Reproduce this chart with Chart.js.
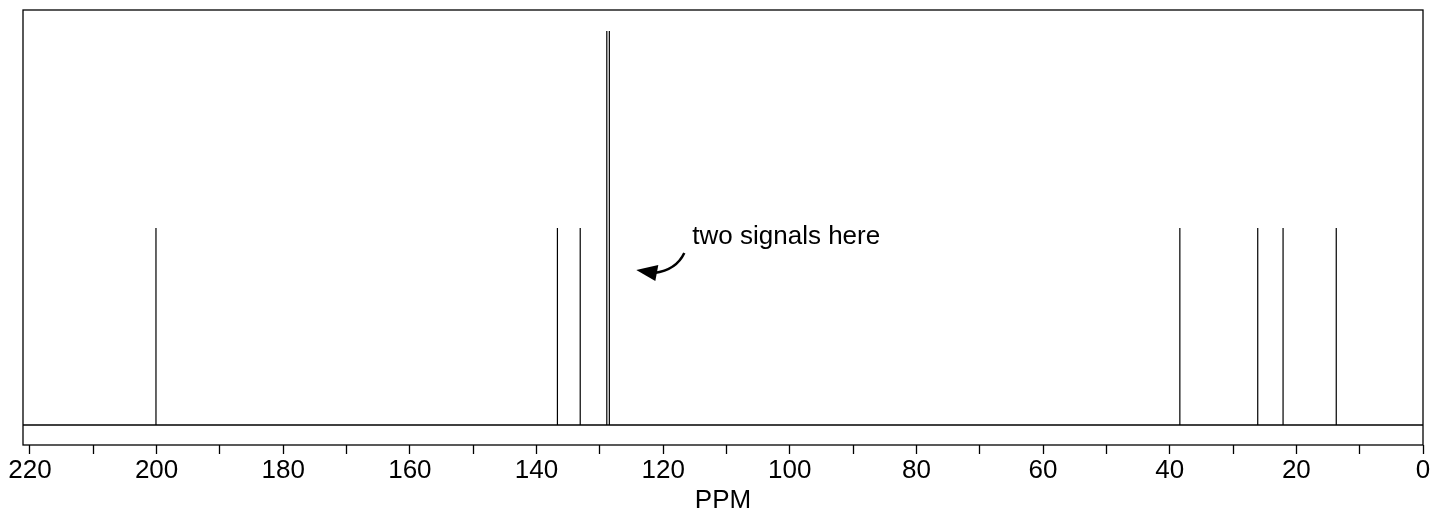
<!DOCTYPE html>
<html>
<head>
<meta charset="utf-8">
<script src="https://cdn.jsdelivr.net/npm/chart.js@4.4.1/dist/chart.umd.min.js"></script>
<style>
  html, body { margin: 0; padding: 0; background: #fff; }
  #wrap { width: 1434px; height: 514px; }
</style>
</head>
<body>
<div id="wrap"><canvas id="nmr"></canvas></div>
<script>
// 13C peaks (ppm) and their relative heights
const shifts = [200.1, 136.7, 133.1, 128.9, 128.5, 38.4, 26.1, 22.1, 13.7];
const heights = [0.5, 0.5, 0.5, 1, 1, 0.5, 0.5, 0.5, 0.5];

// axis ticks: every 10 ppm, labels every 20
const tickValues = [0, 10, 20, 30, 40, 50, 60, 70, 80, 90, 100, 110, 120, 130, 140, 150, 160, 170, 180, 190, 200, 210, 220];
const tickLabels = [0, 20, 40, 60, 80, 100, 120, 140, 160, 180, 200, 220];

const noteText = 'two signals here';
const FONT = '"Liberation Sans", Arial, sans-serif';

// one stick per peak, broken with null so they don't join up
const sticks = [];
shifts.forEach((p, i) => {
  sticks.push({ x: p, y: 0 }, { x: p, y: heights[i] }, { x: p, y: null });
});

const framePlugin = {
  id: 'frame',
  afterDatasetsDraw(chart) {
    const { ctx, chartArea: a, scales: { x, y } } = chart;
    ctx.save();
    ctx.strokeStyle = '#000';
    ctx.lineWidth = 1.3;
    ctx.strokeRect(a.left, a.top, a.right - a.left, a.bottom - a.top);

    // baseline
    const y0 = y.getPixelForValue(0);
    ctx.beginPath();
    ctx.moveTo(a.left, y0);
    ctx.lineTo(a.right, y0);
    ctx.stroke();

    // note + arrow
    const tx = x.getPixelForValue(115.4);
    const ty = y.getPixelForValue(0.477);
    ctx.fillStyle = '#000';
    ctx.font = '26px ' + FONT;
    ctx.textBaseline = 'middle';
    ctx.textAlign = 'left';
    ctx.fillText(noteText, tx, ty);

    ctx.lineWidth = 2.5;
    ctx.beginPath();
    ctx.moveTo(tx - 8, ty + 16);
    ctx.quadraticCurveTo(tx - 16, ty + 33, tx - 38, ty + 36);
    ctx.stroke();
    ctx.beginPath();
    ctx.moveTo(tx - 56, ty + 33);
    ctx.lineTo(tx - 34, ty + 28);
    ctx.lineTo(tx - 37, ty + 44);
    ctx.closePath();
    ctx.fill();
    ctx.restore();
  }
};

new Chart(document.getElementById('nmr'), {
  type: 'scatter',
  data: {
    datasets: [{
      data: sticks,
      showLine: true,
      spanGaps: false,
      borderColor: '#000',
      borderWidth: 1.2,
      pointRadius: 0
    }]
  },
  options: {
    responsive: true,
    maintainAspectRatio: false,
    animation: false,
    events: [],
    layout: { padding: { left: 23, right: 11, top: 10, bottom: 0 } },
    plugins: { legend: { display: false }, tooltip: { enabled: false } },
    scales: {
      x: {
        type: 'linear',
        reverse: true,
        min: 0,
        max: 221.1,
        afterBuildTicks(scale) {
          scale.ticks = tickValues.map(v => ({ value: v }));
        },
        border: { display: false },
        grid: {
          drawOnChartArea: false,
          drawTicks: true,
          tickLength: 9,
          tickColor: '#000',
          tickWidth: 1.3
        },
        ticks: {
          autoSkip: false,
          maxRotation: 0,
          padding: 4,
          color: '#000',
          font: { family: FONT, size: 26, lineHeight: 1 },
          callback: (v) => tickLabels.includes(v) ? String(v) : ''
        },
        title: {
          display: true,
          text: 'PPM',
          color: '#000',
          font: { family: FONT, size: 26, lineHeight: 1 },
          padding: { top: 0, bottom: 0 }
        }
      },
      y: {
        display: false,
        min: -0.0508,
        max: 1.053
      }
    }
  },
  plugins: [framePlugin]
});
</script>
</body>
</html>
